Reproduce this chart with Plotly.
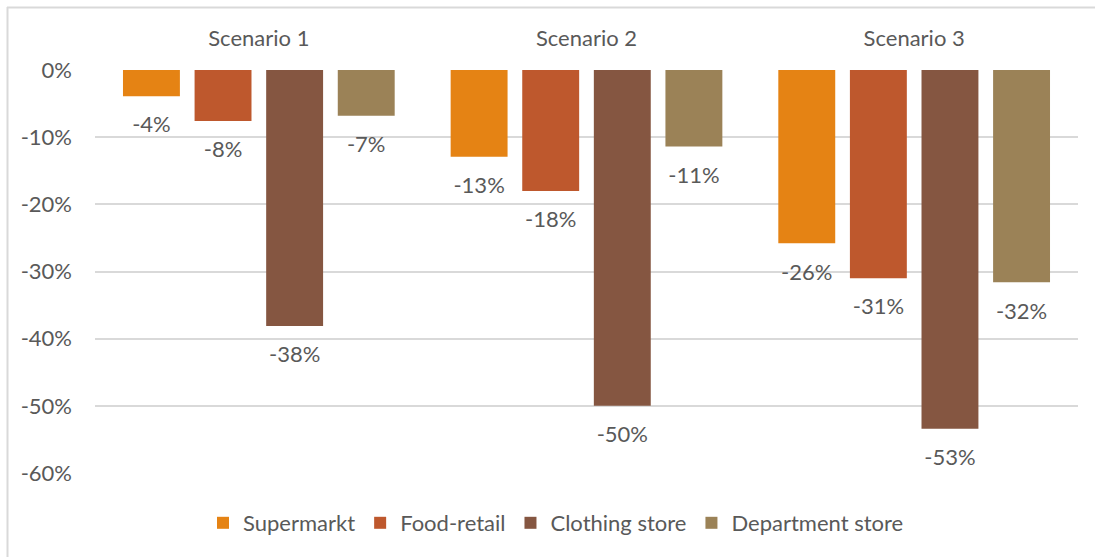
import plotly.graph_objects as go

# Percentage change per store type under each scenario
scenarios = ["Scenario 1", "Scenario 2", "Scenario 3"]
supermarkt = [-3.9, -12.9, -25.8]
food_retail = [-7.6, -18.0, -31.0]
clothing_store = [-38.1, -50.0, -53.4]
department_store = [-6.8, -11.4, -31.6]

y_tick_values = [0, -10, -20, -30, -40, -50, -60]
y_tick_labels = ["0%", "-10%", "-20%", "-30%", "-40%", "-50%", "-60%"]

series = [
    ("Supermarkt", supermarkt, "#E58314"),
    ("Food-retail", food_retail, "#BE582D"),
    ("Clothing store", clothing_store, "#855641"),
    ("Department store", department_store, "#9B8257"),
]

FONT = "Lato"
FONT_SIZE = 22
TEXT_COLOR = "#595959"
GRID_COLOR = "#D9D9D9"

W, H = 1095, 557
L, R, T, B = 95, 17, 70, 84
plot_w = W - L - R
plot_h = H - T - B

fig = go.Figure()
for i, (name, vals, color) in enumerate(series):
    fig.add_trace(go.Bar(
        name=name, x=scenarios, y=vals, marker_color=color,
        marker_line_width=0, offsetgroup=str(i), hoverinfo="skip",
    ))
# value labels sitting below each bar end
for i, (name, vals, color) in enumerate(series):
    fig.add_trace(go.Scatter(
        x=scenarios, y=vals, mode="markers+text", offsetgroup=str(i),
        text=[f"{v:.0f}%" for v in vals], textposition="bottom center",
        textfont=dict(family=FONT, size=FONT_SIZE, color=TEXT_COLOR),
        marker=dict(size=30, color="rgba(0,0,0,0)"),
        showlegend=False, hoverinfo="skip", cliponaxis=False,
    ))


def px_x(px):
    return (px - L) / plot_w


def px_y(py):
    return (H - B - py) / plot_h


fig.update_layout(
    width=W, height=H,
    margin=dict(l=L, r=R, t=T, b=B),
    paper_bgcolor="white", plot_bgcolor="white",
    barmode="group", bargap=0.126, bargroupgap=0.205,
    scattermode="group", scattergap=0.126,
    font=dict(family=FONT, size=FONT_SIZE, color=TEXT_COLOR),
    showlegend=True,
    legend=dict(
        orientation="h", x=px_x(556), xanchor="center", y=px_y(523), yanchor="middle",
        font=dict(family=FONT, size=FONT_SIZE, color=TEXT_COLOR),
        itemwidth=30, traceorder="normal",
    ),
    xaxis=dict(
        side="top", showgrid=False, showline=False, zeroline=False,
        ticks="", tickfont=dict(family=FONT, size=FONT_SIZE, color=TEXT_COLOR),
        ticklabelstandoff=19, fixedrange=True,
    ),
    yaxis=dict(
        range=[-60, 0], tickvals=y_tick_values, ticktext=y_tick_labels,
        showgrid=True, gridcolor=GRID_COLOR, gridwidth=2,
        zeroline=False, showline=False, ticks="",
        ticklabelstandoff=22,
        tickfont=dict(family=FONT, size=FONT_SIZE, color=TEXT_COLOR),
        fixedrange=True,
    ),
    shapes=[
        dict(type="line", xref="paper", yref="paper",
             x0=px_x(7), x1=px_x(W + 5), y0=px_y(7.5), y1=px_y(7.5),
             line=dict(color=GRID_COLOR, width=2)),
        dict(type="line", xref="paper", yref="paper",
             x0=px_x(7.5), x1=px_x(7.5), y0=px_y(7), y1=px_y(H + 5),
             line=dict(color=GRID_COLOR, width=2)),
    ],
)

fig.write_html("out.html")
